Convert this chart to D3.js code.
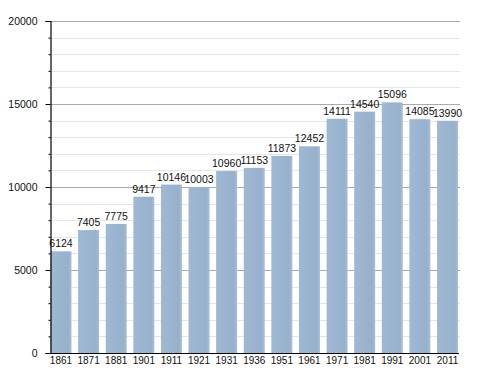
<!DOCTYPE html>
<html>
<head>
<meta charset="utf-8">
<script src="https://cdn.jsdelivr.net/npm/d3@7"></script>
<style>
  body { margin: 0; background: #fff; }
  text { font-family: "Liberation Sans", Arial, sans-serif; font-size: 10px; fill: #111; }
</style>
</head>
<body>
<div id="chart"></div>
<script>
const years = ['1861', '1871', '1881', '1901', '1911', '1921', '1931', '1936', '1951', '1961', '1971', '1981', '1991', '2001', '2011'];
const population = [6124, 7405, 7775, 9417, 10146, 10003, 10960, 11153, 11873, 12452, 14111, 14540, 15096, 14085, 13990];
const yTicks = [0, 5000, 10000, 15000, 20000];

const width = 488, height = 373;
const margin = { left: 50.5, right: 458, top: 21, bottom: 353 };

const svg = d3.select('#chart').append('svg')
  .attr('width', width)
  .attr('height', height);

const x = d3.scaleBand().domain(years).range([margin.left, margin.right]).paddingInner(0.24).paddingOuter(0);
const y = d3.scaleLinear().domain([0, 20000]).range([margin.bottom, margin.top]);

// light gradient on bars
const grad = svg.append('defs').append('linearGradient').attr('id', 'barGrad');
grad.append('stop').attr('offset', '0%').attr('stop-color', '#9fb8d3');
grad.append('stop').attr('offset', '85%').attr('stop-color', '#97b0cb');
grad.append('stop').attr('offset', '100%').attr('stop-color', '#a9bfd6');

// grid lines
const minor = d3.range(1000, 20001, 1000).filter(v => v % 5000 !== 0);
svg.append('g').selectAll('line.minor')
  .data(minor).enter().append('line')
  .attr('x1', margin.left).attr('x2', 460)
  .attr('y1', d => Math.round(y(d)) + 0.5).attr('y2', d => Math.round(y(d)) + 0.5)
  .attr('stroke', '#e6e6e6');
svg.append('g').selectAll('line.major')
  .data(yTicks.slice(1)).enter().append('line')
  .attr('x1', margin.left).attr('x2', 460)
  .attr('y1', d => Math.round(y(d)) + 0.5).attr('y2', d => Math.round(y(d)) + 0.5)
  .attr('stroke', '#aaaaaa');

// bars
svg.append('g').selectAll('rect')
  .data(years).enter().append('rect')
  .attr('x', d => x(d))
  .attr('width', x.bandwidth())
  .attr('y', (d, i) => y(population[i]))
  .attr('height', (d, i) => margin.bottom - y(population[i]))
  .attr('fill', 'url(#barGrad)');

// value labels
svg.append('g').selectAll('text')
  .data(years).enter().append('text')
  .attr('x', d => x(d) + x.bandwidth() / 2)
  .attr('y', (d, i) => y(population[i]) - 4)
  .attr('text-anchor', 'middle')
  .style('font-size', '10.5px')
  .text((d, i) => population[i]);

// y axis
const yAxis = svg.append('g').attr('transform', `translate(${margin.left},0)`)
  .call(d3.axisLeft(y).tickValues(yTicks).tickSize(5).tickFormat(d3.format('d')));
svg.append('g').attr('transform', `translate(${margin.left},0)`)
  .call(d3.axisLeft(y).tickValues(minor).tickSize(2).tickFormat(''))
  .select('.domain').remove();
yAxis.selectAll('text').attr('x', -13).style('font-size', '10.5px');

// x axis
const xAxis = svg.append('g').attr('transform', `translate(0,${margin.bottom})`)
  .call(d3.axisBottom(x).tickSize(0).tickPadding(4));
xAxis.select('.domain').attr('d', `M${margin.left},0.5H${margin.right + 1}`);
xAxis.selectAll('text').style('font-size', '10px');

svg.selectAll('.domain').attr('stroke', '#000').attr('stroke-width', 1.2);
svg.selectAll('.tick line').attr('stroke', '#000');
svg.selectAll('.tick text').style('font-family', '"Liberation Sans", Arial, sans-serif').attr('fill', '#111');
</script>
</body>
</html>
